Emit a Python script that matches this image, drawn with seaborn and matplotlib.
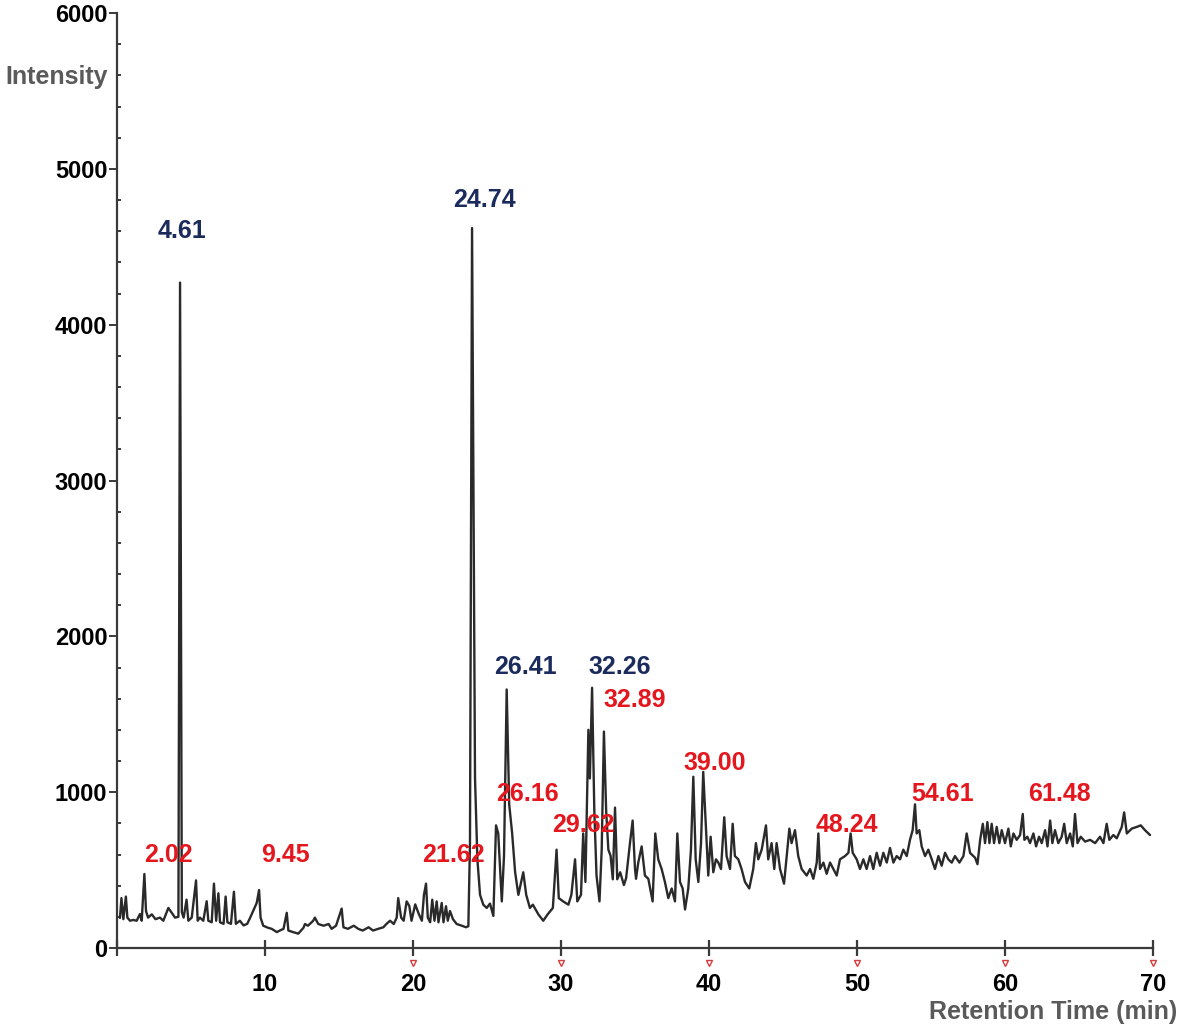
import seaborn as sns
import pandas as pd
import matplotlib.pyplot as plt
from matplotlib.ticker import AutoMinorLocator
import matplotlib.transforms as mtransforms

###################
# Data
time_min = [
    0.2, 0.3, 0.43, 0.6, 0.7, 0.88, 1.1, 1.33, 1.55, 1.67, 1.85, 1.96, 2.1, 2.35, 2.6, 2.9, 3.13, 3.47, 3.7, 3.92,
    4.15, 4.26, 4.38, 4.5, 4.7, 4.82, 5.05, 5.34, 5.45, 5.6, 5.83, 6.06, 6.17, 6.4, 6.55, 6.7, 6.85, 6.96, 7.2, 7.34,
    7.46, 7.7, 7.9, 8.03, 8.3, 8.55, 8.8, 9.0, 9.2, 9.44, 9.6, 9.7, 9.88, 10.2, 10.45, 10.8, 11.0, 11.25, 11.47, 11.58,
    11.9, 12.25, 12.6,
    12.7, 12.9, 13.26, 13.37, 13.6, 13.96, 14.3, 14.5, 14.8, 15.18, 15.3, 15.6, 16.0, 16.3, 16.6, 17.0, 17.3, 17.65,
    18.0, 18.2, 18.45, 18.7, 18.9, 19.0, 19.2, 19.37, 19.57, 19.75, 19.9, 20.15, 20.4, 20.6, 20.74, 20.88, 21.0, 21.16,
    21.3, 21.45, 21.6, 21.72, 21.94, 22.06, 22.23, 22.35, 22.5, 22.7, 22.95, 23.3, 23.58, 23.74,
    23.85, 23.99, 24.19, 24.35, 24.53, 24.75, 24.98, 25.2, 25.43, 25.61, 25.76, 26.0, 26.15, 26.33, 26.5, 26.7, 26.9,
    27.12, 27.45, 27.65, 27.9, 28.1, 28.47, 28.8, 29.1, 29.45, 29.7, 29.85, 30.15, 30.5, 30.7, 30.95, 31.1, 31.35,
    31.5, 31.65, 31.85, 31.95, 32.1, 32.25, 32.4, 32.6, 32.75, 32.9, 33.05, 33.2, 33.35, 33.5, 33.65, 33.8, 34.0,
    34.25, 34.4, 34.66, 34.84, 35.0,
    35.07, 35.22, 35.45, 35.67, 35.9, 36.19, 36.37, 36.57, 36.8, 37.02, 37.25, 37.48, 37.7, 37.86, 38.04, 38.22,
    38.38, 38.6, 38.78, 38.94, 39.1, 39.28, 39.46, 39.61, 39.8, 39.95, 40.11, 40.29, 40.47, 40.63, 40.81, 41.03,
    41.19, 41.42, 41.6, 41.75, 41.98, 42.2, 42.43, 42.72, 42.99, 43.17, 43.33, 43.56, 43.85, 44.0, 44.23, 44.41,
    44.57, 44.8, 45.07, 45.25, 45.43, 45.58, 45.81, 46.03, 46.26, 46.6,
    46.83, 47.05, 47.28, 47.39, 47.5, 47.73, 47.95, 48.18, 48.4, 48.63, 48.85, 49.19, 49.42, 49.57, 49.71, 49.98,
    50.2, 50.43, 50.65, 50.88, 51.1, 51.33, 51.56, 51.78, 52.01, 52.23, 52.46, 52.68, 52.91, 53.13, 53.36, 53.58,
    53.76, 53.92, 54.03, 54.21, 54.37, 54.6, 54.82, 55.05, 55.27, 55.5, 55.72, 55.95, 56.17, 56.4, 56.62, 56.92,
    57.19, 57.41,
    57.64, 57.98, 58.14, 58.32, 58.5, 58.65, 58.81, 58.95, 59.1, 59.26, 59.44, 59.62, 59.78, 60.0, 60.23, 60.39,
    60.57, 60.79, 61.02, 61.2, 61.31, 61.51, 61.69, 61.92, 62.1, 62.3, 62.48, 62.71, 62.87, 63.05, 63.2, 63.38,
    63.6, 63.83, 64.0, 64.17, 64.4, 64.58, 64.73, 64.9, 65.12, 65.41, 65.75, 66.09, 66.42, 66.65, 66.87, 67.05,
    67.32, 67.55, 67.89, 68.05, 68.23, 68.56, 68.9, 69.17, 69.46, 69.8,
]
intensity = [
    193, 320, 185, 330, 195, 175, 180, 175, 218, 175, 475, 237, 195, 216, 185, 195, 175, 257, 226, 195,
    200, 4270, 230, 195, 310, 175, 195, 434, 175, 195, 175, 300, 175, 165, 413, 175, 351, 165, 155, 330,
    165, 155, 361, 155, 175, 145, 155, 195, 237, 289, 372, 195, 143, 130, 123, 102, 112, 123, 226, 112,
    102, 92, 130,
    154, 143, 175, 195, 154, 143, 154, 123, 143, 253, 133, 123, 143, 123, 112, 133, 112, 123,
    133, 154, 175, 154, 195, 320, 195, 175, 299, 270, 175, 280, 216, 175, 341, 413, 195, 165,
    310, 175, 299, 165, 289, 165, 268, 175, 237, 185, 154, 143, 133, 140,
    673, 4620, 1090, 569, 341, 278, 257, 285, 206, 787, 735, 299, 592, 1659, 922, 735, 486,
    341, 486, 341, 257, 278, 216, 175, 216, 257, 631, 320, 299, 278, 341, 569, 299, 341,
    735, 424, 1400, 1088, 1670, 883, 465, 299, 631, 1389, 883, 631, 592, 441, 901, 441, 486,
    404, 448, 673, 818, 507,
    444, 548, 652, 465, 444, 299, 735, 569, 507, 424, 320, 382, 299, 735, 424, 382,
    247, 382, 631, 1099, 569, 424, 673, 1130, 756, 465, 714, 486, 569, 548, 507, 839,
    590, 507, 797, 590, 569, 507, 424, 382, 507, 673, 569, 631, 787, 569, 673, 507,
    673, 507, 413, 590, 766, 673, 756, 590, 507, 465,
    507, 444, 548, 735, 507, 548, 476, 548, 507, 465, 569, 590, 611, 735, 611, 569,
    507, 569, 507, 590, 507, 611, 528, 611, 548, 642, 548, 590, 569, 631, 590, 694,
    756, 922, 735, 756, 652, 590, 631, 569, 507, 590, 528, 611, 569, 548, 590, 548,
    590, 735,
    610, 579, 538, 694, 797, 673, 808, 673, 797, 673, 777, 673, 756, 673, 766, 652,
    735, 694, 725, 860, 694, 714, 673, 735, 652, 714, 673, 756, 652, 818, 673, 756,
    673, 714, 797, 673, 735, 652, 860, 673, 714, 683, 694, 673, 714, 673, 797, 694,
    725, 704, 777, 870, 735, 766, 777, 787, 756, 725,
]

# peak annotations: label text, label centre (time, intensity), colour group
peak_labels = ["4.61", "24.74", "26.41", "32.26",
               "2.02", "9.45", "21.62", "26.16", "29.62", "32.89", "39.00", "48.24", "54.61", "61.48"]
label_time = [4.4, 24.8, 27.6, 34.0, 3.45, 11.4, 22.7, 27.7, 31.5, 35.0, 40.4, 49.3, 55.8, 63.7]
label_int = [4600, 4800, 1800, 1800, 600, 600, 600, 990, 790, 1590, 1190, 790, 990, 990]
label_group = ["major"] * 4 + ["minor"] * 10

x_ticks = [0, 10, 20, 30, 40, 50, 60, 70]
x_ticklabels = ["", "10", "20", "30", "40", "50", "60", "70"]
y_ticks = [0, 1000, 2000, 3000, 4000, 5000, 6000]

###################
# Setup
sns.set_theme(style="ticks")
plt.rcParams["font.family"] = ["Liberation Sans", "DejaVu Sans"]

df = pd.DataFrame({"Time": time_min, "Intensity": intensity})
group_colors = {"major": "#1b2b5c", "minor": "#e3171d"}
axis_gray = "#3a3a3a"

fig = plt.figure(figsize=(11.81, 10.34), dpi=100)
ax = fig.add_axes([117 / 1181, 86 / 1034, 1036 / 1181, 935 / 1034])

sns.lineplot(data=df, x="Time", y="Intensity", ax=ax, color="#2a2a2a", linewidth=1.7, sort=False)

for txt, tx, ty, grp in zip(peak_labels, label_time, label_int, label_group):
    ax.text(tx, ty, txt, color=group_colors[grp], fontsize=18, fontweight="bold", ha="center", va="center")

###################
# Axes styling
ax.set_xlim(0, 70)
ax.set_ylim(0, 6000)
ax.set_xticks(x_ticks)
ax.set_xticklabels(x_ticklabels)
ax.set_yticks(y_ticks)
ax.yaxis.set_minor_locator(AutoMinorLocator(5))
ax.set_xlabel("")
ax.set_ylabel("")

ax.tick_params(axis="x", direction="inout", length=12, width=1.6, color=axis_gray, pad=12,
               labelsize=17, labelcolor="black")
ax.tick_params(axis="y", which="major", direction="out", length=6, width=1.4, color=axis_gray, pad=1,
               labelsize=17, labelcolor="black")
ax.tick_params(axis="y", which="minor", direction="in", length=3, width=1.4, color=axis_gray)
for lab in ax.get_xticklabels() + ax.get_yticklabels():
    lab.set_fontweight("bold")

sns.despine(ax=ax, top=True, right=True)
for side in ["left", "bottom"]:
    ax.spines[side].set_color(axis_gray)
    ax.spines[side].set_linewidth(1.6)

# small red carets under the x ticks
trans = mtransforms.blended_transform_factory(ax.transData, ax.transAxes)
ax.plot(x_ticks[2:], [-0.016] * len(x_ticks[2:]), linestyle="none", marker="v", markersize=5,
        markerfacecolor="none", markeredgecolor="#d83a3a", markeredgewidth=1.0,
        transform=trans, clip_on=False)

fig.text(108 / 1181, 1 - 77 / 1034, "Intensity", color="#5a5a5a", fontsize=18, fontweight="bold",
         ha="right", va="center")
fig.text(1177 / 1181, 1 - 1012 / 1034, "Retention Time (min)", color="#5a5a5a", fontsize=18,
         fontweight="bold", ha="right", va="center")

###################
# Export
fig.savefig("out.png", dpi=100)
